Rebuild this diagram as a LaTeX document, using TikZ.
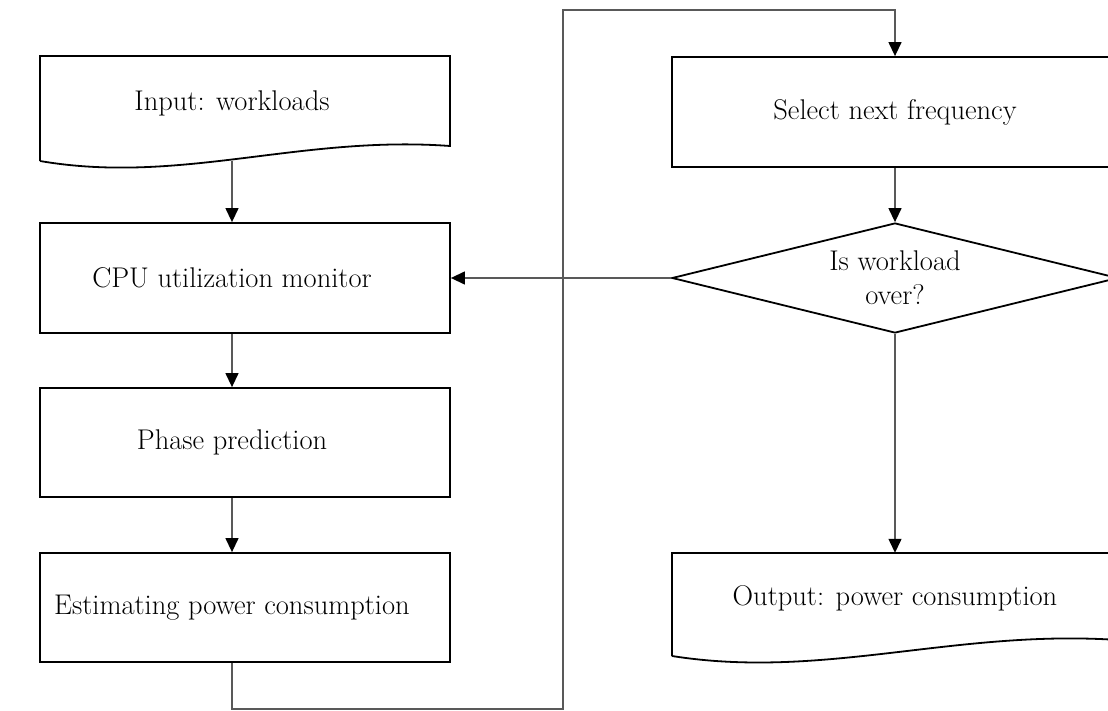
\documentclass[tikz,border=0pt]{standalone}
\usetikzlibrary{arrows.meta,shapes.geometric}
\begin{document}
\begin{tikzpicture}[x=1pt,y=-1pt,
  txt/.style={font=\fontsize{28.5}{34}\selectfont},
  box/.style={txt,draw,line width=1.8pt,minimum width=410pt,minimum height=110pt,inner sep=0pt},
  lshift/.style={execute at end node={\hspace*{26pt}}},
  ghost/.style={txt,draw=none,inner sep=0pt},
  shapeline/.style={line width=1.8pt},
  conn/.style={draw=black!65,line width=1.3pt},
  arr/.style={conn,-{Triangle[width=13pt,length=14pt,color=black]}}]
\useasboundingbox (0,0) rectangle (1108,711);
% left column
\node[ghost,minimum width=410pt,minimum height=92pt,lshift] (inp) at (245,103) {Input: workloads};
\draw[shapeline] (40,161) -- (40,56) -- (450,56) -- (450,146)
  .. controls (300,135) and (180,185) .. (40,161);
\coordinate (inb) at (232,161);
\node[box,lshift] (cpu) at (245,278) {CPU utilization monitor};
\node[box,lshift,minimum height=109pt] (pha) at (245,442.5) {Phase prediction};
\node[box,lshift,minimum height=109pt] (est) at (245,607.5) {Estimating power consumption};
% right column
\node[box,minimum width=446pt] (sel) at (895,112) {Select next frequency};
\node[txt,draw,shape=diamond,line width=1.8pt,aspect=4.05,minimum width=446pt,minimum height=110pt,inner sep=0pt,align=center] (dec) at (895,278) {Is workload\\over?};
\node[ghost,minimum width=446pt,minimum height=90pt] (out) at (895,598) {Output: power consumption};
\draw[shapeline] (672,656) -- (672,553) -- (1118,553) -- (1118,640)
  .. controls (955,629) and (824,680) .. (672,656);
% connectors
\coordinate (ax) at (232,0);
\coordinate (lp1) at (563,709);
\coordinate (lp2) at (563,10);
\draw[arr] (inb) -- (cpu.north -| ax);
\draw[arr] (cpu.south -| ax) -- (pha.north -| ax);
\draw[arr] (pha.south -| ax) -- (est.north -| ax);
\draw[arr] (est.south -| ax) |- (lp1) -- (lp2) -| (sel.north);
\draw[arr] (sel.south) -- (dec.north);
\draw[arr] (dec.west) -- (cpu.east);
\draw[arr] (dec.south) -- (out.north);
\end{tikzpicture}
\end{document}
